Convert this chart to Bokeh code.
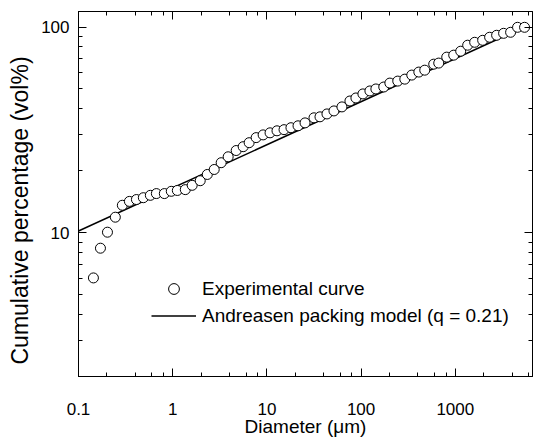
from bokeh.plotting import figure
from bokeh.models import (Range1d, LogAxis, LogTicker, FixedTicker, CustomJSTickFormatter,
                          Legend, LegendItem, Title)
from bokeh.embed import file_html
from bokeh.resources import INLINE

# Experimental particle size distribution
diameter = [0.144, 0.171, 0.203, 0.246, 0.292, 0.347, 0.412, 0.488, 0.579, 0.671,
            0.815, 0.966, 1.12, 1.36, 1.61, 1.96, 2.33, 2.76, 3.27, 3.88,
            4.72, 5.60, 6.48, 7.69, 9.12, 10.8, 12.8, 15.2, 18.0, 21.4,
            25.4, 31.6, 36.6, 43.4, 51.5, 62.6, 76.1, 88.1, 104.5, 124,
            143.5, 174, 202, 245, 291, 345, 410, 474, 590, 667,
            811, 962, 1141, 1353, 1606, 1952, 2314, 2746, 3257, 3864,
            4581, 5436]
cumulative = [6.03, 8.41, 10.06, 11.9, 13.6, 14.2, 14.5, 14.8, 15.2, 15.5,
              15.5, 15.9, 16.05, 16.2, 17.0, 17.9, 19.2, 20.3, 21.9, 23.4,
              25.1, 26.2, 27.4, 29.0, 29.9, 30.6, 31.3, 31.7, 32.4, 33.1,
              34.2, 36.2, 36.6, 37.8, 39.1, 40.9, 43.7, 45.2, 47.3, 48.9,
              50.0, 51.1, 53.4, 54.6, 55.8, 58.4, 60.4, 61.7, 66.0, 66.8,
              71.4, 73.0, 76.3, 81.6, 84.3, 86.2, 89.2, 91.2, 93.2, 94.3,
              99.7, 99.7]

# Andreasen packing model (q = 0.21): straight line in log-log
model_diameter = [0.1, 5400]
model_cumulative = [10.2, 100]

x_limits = [0.1, 6600]
y_limits = [2, 119]
y_major = [10, 100]
y_minor = [2, 3, 4, 5, 6, 7, 8, 9, 20, 30, 40, 50, 60, 70, 80, 90]

x_title = "Diameter (μm)"
y_title = "Cumulative percentage (vol%)"

FONT = "Liberation Sans"

p = figure(width=534, height=439, x_axis_type="log", y_axis_type="log",
           x_range=Range1d(*x_limits), y_range=Range1d(*y_limits),
           output_backend="svg", toolbar_location=None,
           min_border_left=77, min_border_right=2, min_border_top=11,
           min_border_bottom=61)

p.grid.visible = False
p.outline_line_color = "black"
p.outline_line_width = 1
p.background_fill_color = "white"
p.border_fill_color = "white"

fmt = CustomJSTickFormatter(code="return Number(tick.toPrecision(6)).toString();")

p.xaxis[0].ticker = LogTicker(desired_num_ticks=6)
p.yaxis[0].ticker = FixedTicker(ticks=y_major, minor_ticks=y_minor)

for ax in [p.xaxis[0], p.yaxis[0]]:
    ax.formatter = fmt
    ax.major_tick_in = 8
    ax.major_tick_out = 0
    ax.minor_tick_in = 4
    ax.minor_tick_out = 0
    ax.axis_line_color = "black"
    ax.major_tick_line_color = "black"
    ax.minor_tick_line_color = "black"
    ax.major_label_text_font = FONT
    ax.major_label_text_font_size = "17px"
    ax.major_label_text_color = "black"

p.xaxis[0].major_label_standoff = 26
p.yaxis[0].major_label_standoff = 9

xa = p.xaxis[0]
xa.axis_label = x_title
xa.axis_label_standoff = -2
xa.axis_label_text_font = FONT
xa.axis_label_text_font_size = "19px"
xa.axis_label_text_font_style = "normal"
xa.axis_label_text_color = "black"

for side, tk in [("above", LogTicker(desired_num_ticks=6)),
                 ("right", FixedTicker(ticks=y_major, minor_ticks=y_minor))]:
    ax = LogAxis(ticker=tk)
    ax.major_tick_in = 8
    ax.major_tick_out = 0
    ax.minor_tick_in = 4
    ax.minor_tick_out = 0
    ax.major_label_text_font_size = "1px"
    ax.major_label_text_color = None
    ax.major_label_standoff = 0
    ax.axis_line_color = "black"
    p.add_layout(ax, side)

p.add_layout(Title(text=y_title, align="left", offset=12, vertical_align="middle",
                   standoff=10, text_font=FONT, text_font_size="23px",
                   text_font_style="normal", text_color="black"), "left")

r_line = p.line(model_diameter, model_cumulative, line_color="black", line_width=1.5)
r_pts = p.scatter(diameter, cumulative, marker="circle", size=10,
                  fill_color="white", line_color="black", line_width=1)

legend = Legend(items=[
    LegendItem(label="Experimental curve", renderers=[r_pts]),
    LegendItem(label="Andreasen packing model (q = 0.21)", renderers=[r_line]),
], location=(73, 47))
legend.glyph_width = 45
legend.glyph_height = 27
legend.label_height = 27
legend.label_standoff = 6
legend.spacing = 0
legend.padding = 0
legend.margin = 0
legend.border_line_alpha = 0
legend.background_fill_alpha = 0
legend.label_text_font = FONT
legend.label_text_font_size = "19px"
legend.label_text_color = "black"
p.add_layout(legend)

open("out.html", "w").write(file_html(p, INLINE))
